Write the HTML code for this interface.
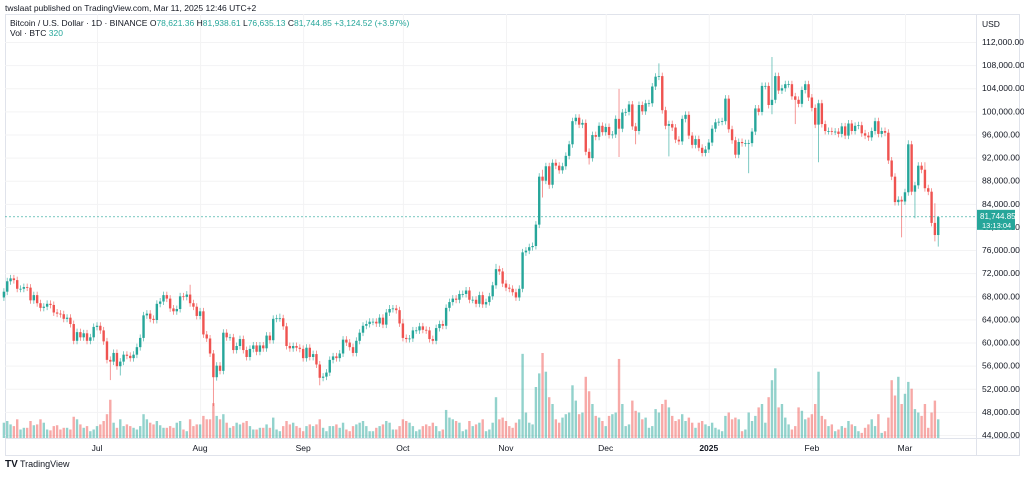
<!DOCTYPE html>
<html><head><meta charset="utf-8"><style>
html,body{margin:0;padding:0;background:#fff;}
body{width:1024px;height:474px;overflow:hidden;font-family:"Liberation Sans",sans-serif;}
svg text{font-family:"Liberation Sans",sans-serif;}
</style></head><body>
<svg id="chart" width="1024" height="474" viewBox="0 0 1024 474" xmlns="http://www.w3.org/2000/svg">
<text x="5" y="11" font-size="8.5" fill="#131722">twslaat published on TradingView.com, Mar 11, 2025 12:46 UTC+2</text>
<rect x="5.5" y="14.5" width="1014" height="441" fill="none" stroke="#e0e3eb"/>
<g id="grid"></g>
<g id="vols"></g>
<g id="candles"></g>
<line x1="976.5" y1="14" x2="976.5" y2="456" stroke="#e0e3eb"/>
<line x1="5" y1="438.5" x2="1019" y2="438.5" stroke="#e0e3eb"/>
<text x="982" y="27" font-size="8.5" fill="#131722">USD</text>
<g id="yticks"></g>
<g id="xticks"></g>
<text x="10" y="26" font-size="8.5" fill="#131722">Bitcoin / U.S. Dollar · 1D · BINANCE <tspan fill="#131722">O</tspan><tspan fill="#26a69a">78,621.36 </tspan><tspan fill="#131722">H</tspan><tspan fill="#26a69a">81,938.61 </tspan><tspan fill="#131722">L</tspan><tspan fill="#26a69a">76,635.13 </tspan><tspan fill="#131722">C</tspan><tspan fill="#26a69a">81,744.85 +3,124.52 (+3.97%)</tspan></text>
<text x="10" y="36" font-size="8.5" fill="#131722">Vol · BTC <tspan fill="#26a69a">320</tspan></text>
<g>
<text x="5" y="467" font-size="10" font-weight="bold" fill="#131722">TV</text>
<text x="20" y="467" font-size="9" fill="#131722">TradingView</text>
</g>
</svg>
<script>
const closesJun=[68.8,70.6,71.1,70.8,69.3,69.3,69.6,69.5,67.3,68.2,66.8,66.0,66.2,66.7,66.5,65.2,65.0,64.9,64.1,64.3,63.2,60.3,61.8,60.9,61.6,60.3,60.9,62.7];
const closesJul=[62.9,62.1,60.2,57.0,56.7,58.2,55.9,56.7,57.9,57.7,57.3,57.9,59.2,60.8,64.7,65.0,64.1,63.9,66.7,67.1,68.2,67.6,65.9,65.4,65.8,68.0,67.9,68.3,66.8,66.2,64.6];
const closesAug=[65.4,61.4,60.7,58.1,54.0,56.0,55.1,61.7,60.9,60.9,58.7,59.4,60.6,58.7,57.5,58.9,59.5,58.4,59.5,59.0,61.2,60.4,64.1,64.2,64.2,62.8,59.4,59.0,59.4,59.1,58.9];
const closesSep=[57.3,59.1,57.5,58.0,56.2,53.9,54.1,54.8,57.0,57.6,57.3,58.1,60.5,60.0,59.2,58.2,60.3,61.7,62.9,63.2,63.6,63.6,63.3,64.3,63.1,65.2,65.8,65.9,65.6,63.3];
const closesOct=[60.8,60.6,60.7,62.1,62.1,62.8,62.2,62.1,60.6,60.3,62.5,63.2,62.9,66.0,67.0,67.6,67.4,68.4,68.4,69.0,67.4,67.4,66.7,68.2,66.6,67.0,68.0,69.9,72.7,72.3,70.2];
const closesNov=[69.5,69.3,68.7,67.8,69.3,75.6,75.9,76.5,76.7,80.4,88.7,88.0,90.5,87.3,91.1,90.6,89.8,90.5,92.3,94.3,98.3,98.9,97.7,98.0,93.0,91.9,95.9,95.6,97.5,96.4];
const closesDec=[97.3,95.9,96.0,98.7,97.0,99.8,99.9,101.2,97.4,96.6,101.1,100.0,101.4,101.4,104.3,106.0,106.1,100.2,97.5,97.8,97.2,95.1,94.8,98.7,99.4,95.8,94.2,95.2,93.7,92.8,93.4];
const closesJan=[94.6,97.0,98.1,98.2,98.3,102.2,96.9,95.0,92.5,94.7,94.5,94.5,94.5,96.5,100.5,99.9,104.4,104.4,101.1,102.0,106.1,103.6,104.0,104.7,104.7,102.6,102.0,101.3,103.7,104.7,102.4];
const closesFeb=[100.6,97.7,101.4,97.8,96.6,96.6,96.5,96.5,96.1,97.4,95.8,97.9,96.6,97.5,97.6,96.2,95.8,95.5,96.6,98.3,96.1,96.6,96.3,91.5,88.7,84.3,84.7,84.4];
const closesMar=[86.0,94.3,86.1,87.2,90.6,89.9,86.7,86.1,80.7,78.6,81.7];
const firstOpen=67.8;
const volJun=[18,20,16,14,22,10,12,12,20,15,16,22,18,10,9,14,15,10,12,12,10,25,22,16,12,14,8,10];
const volJul=[14,16,20,28,45,18,12,22,14,16,14,12,10,14,28,22,18,16,20,15,12,12,14,12,18,20,10,8,22,14,16];
const volAug=[16,26,22,22,41,26,22,28,18,12,14,18,16,18,20,14,10,10,12,12,16,12,24,10,8,14,20,16,18,14,12];
const volSep=[8,14,16,14,16,22,12,8,14,14,16,12,18,10,8,14,16,18,20,14,8,8,12,14,16,20,18,10,10,14];
const volOct=[22,20,18,14,8,10,14,16,14,18,14,8,10,33,24,22,20,18,8,10,20,14,16,18,22,8,10,18,48,22,24];
const volNov=[20,14,12,18,22,99,30,18,16,60,76,100,78,48,40,22,18,24,28,30,62,44,28,30,72,55,40,26,24,20];
const volDec=[14,26,28,30,93,40,14,16,44,32,30,22,24,12,14,34,30,40,45,36,26,20,22,28,20,24,18,12,18,20,16];
const volJan=[14,18,12,10,8,26,30,22,24,22,8,10,30,20,26,36,40,18,48,68,82,36,40,24,16,10,14,36,32,22,24];
const volFeb=[28,40,78,26,22,14,16,8,10,14,12,20,16,14,8,6,12,16,22,14,28,6,8,24,68,50,72,40];
const volMar=[52,66,58,34,30,26,40,12,30,44,22];
const highExtremes={56:70.0,83:65.0,116:66.5,120:64.1,148:73.6,162:89.9,185:103.9,197:108.3,231:109.4,272:95.0,277:91.2,280:84.1,281:81.9};
const lowExtremes={32:53.5,35:54.3,63:49.0,95:52.6,120:60.2,162:85.1,164:86.6,176:90.8,185:92.1,190:94.3,200:92.2,224:89.3,231:99.5,238:97.8,245:91.2,270:78.2,274:81.5,280:77.5,281:76.6};
const priceTicks=[44,48,52,56,60,64,68,72,76,80,84,88,92,96,100,104,108,112];
const monthLabels=["Jul","Aug","Sep","Oct","Nov","Dec","2025","Feb","Mar"];
const monthIndex=[28,59,90,120,151,181,212,243,271];
const lastPrice=81.74485;

const closes=[].concat(closesJun,closesJul,closesAug,closesSep,closesOct,closesNov,closesDec,closesJan,closesFeb,closesMar);
const vols=[].concat(volJun,volJul,volAug,volSep,volOct,volNov,volDec,volJan,volFeb,volMar);
const NS="http://www.w3.org/2000/svg";
function yS(p){return 42+(112-p)*393/68;}
function xS(i){return 97+(i-28)*3.325;}
function vS(v){return 438-v*0.85;}
function mk(tag,attrs,parent){const e=document.createElementNS(NS,tag);for(const k in attrs)e.setAttribute(k,attrs[k]);parent.appendChild(e);return e;}
const grid=document.getElementById('grid');
priceTicks.forEach(p=>{
  const l=mk('line',{x1:5,x2:976,y1:yS(p)+0.5,y2:yS(p)+0.5,stroke:'#f3f3f4'},grid);
  
  
});
monthIndex.forEach(i=>{
  const l=mk('line',{x1:xS(i)+0.5,x2:xS(i)+0.5,y1:14,y2:438,stroke:'#f3f3f4'},grid);
  
  
});
const yt=document.getElementById('yticks');
priceTicks.forEach(p=>{
  const t=mk('text',{x:982,y:yS(p)+3,'font-size':'8.5',fill:'#131722'},yt);
  t.textContent=(p*1000).toLocaleString('en-US')+'.00';
  
  
});
const xt=document.getElementById('xticks');
monthLabels.forEach((m,k)=>{
  const t=mk('text',{x:xS(monthIndex[k]),y:451,'font-size':'8.5',fill:'#131722','text-anchor':'middle','font-weight':m==='2025'?'bold':'normal'},xt);
  t.textContent=m;
  
  
});
const vg=document.getElementById('vols'),cg=document.getElementById('candles');
closes.forEach((c,i)=>{
  const o=i===0?firstOpen:closes[i-1];
  const up=c>=o;
  const col=up?'#26a69a':'#ef5350';
  const top=Math.max(o,c),bot=Math.min(o,c);
  const h=highExtremes[i]!==undefined?highExtremes[i]:top+0.6;
  const l=lowExtremes[i]!==undefined?lowExtremes[i]:bot-0.6;
  const x=xS(i);
  const v=mk('rect',{x:x-1.2,y:vS(vols[i]),width:2.4,height:438-vS(vols[i]),fill:up?'rgba(38,166,154,0.5)':'rgba(239,83,80,0.5)'},vg);
  
  
  const w=mk('line',{x1:x,x2:x,y1:yS(h),y2:yS(l),stroke:col,'stroke-width':0.8,'stroke-opacity':0.75},cg);
  
  
  const b=mk('rect',{x:x-1.2,y:yS(top),width:2.4,height:Math.max(0.8,yS(bot)-yS(top)),fill:col},cg);
  
  
});
const svg=document.getElementById('chart');
const py=yS(lastPrice);
const pl=mk('line',{x1:5,x2:976,y1:py,y2:py,stroke:'#26a69a','stroke-width':0.6,'stroke-dasharray':'2 2'},svg);


const pb=mk('rect',{x:977,y:py-7,width:38,height:20,fill:'#26a69a'},svg);


const pt=mk('text',{x:980,y:py+2,'font-size':'8','fill':'#fff'},svg);
pt.textContent='81,744.85';


const ct=mk('text',{x:982,y:py+11,'font-size':'7.5','fill':'#fff'},svg);
ct.textContent='13:13:04';


</script>
</body></html>
